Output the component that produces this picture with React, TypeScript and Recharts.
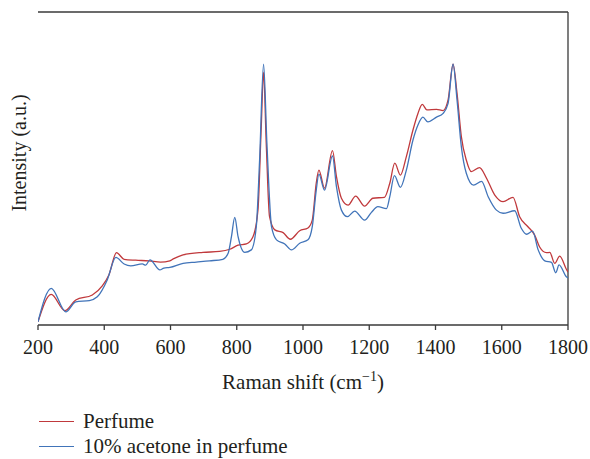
import React from "react";
import { LineChart, Line, XAxis, YAxis, Legend, ReferenceLine } from "recharts";

// Raman spectra (intensity in arbitrary units, 0-100 of the frame)
const perfumeShift = [
  200, 240, 281, 314, 364, 394, 414, 437, 460, 495, 535, 570, 598, 610, 638, 698, 748, 779, 804, 829,
  849, 864, 874, 881, 889, 899, 915, 940, 962, 990, 1015, 1028, 1040, 1048, 1065, 1089, 1101, 1116, 1136, 1159,
  1186, 1211, 1246, 1262, 1277, 1294, 1312, 1332, 1347, 1360, 1374, 1403, 1423, 1438, 1453, 1465, 1478, 1493, 1508, 1533,
  1554, 1579, 1604, 1634, 1654, 1679, 1699, 1714, 1735, 1745, 1760, 1775, 1795, 1800,
];
const perfumeIntensity = [
  1.0, 9.8, 4.6, 8.0, 9.6, 12.5, 16.0, 23.1, 21.0, 20.7, 20.5, 20.1, 20.5, 21.2, 22.4, 23.2, 23.5, 24.2, 25.5, 25.9,
  28.2, 36.7, 63.4, 80.8, 58.1, 34.6, 30.4, 29.5, 27.4, 30.1, 31.0, 33.5, 45.3, 49.5, 43.7, 55.7, 47.4, 40.5, 38.3, 41.2,
  38.0, 40.5, 40.8, 45.3, 51.7, 47.9, 53.8, 62.3, 67.6, 70.5, 68.7, 68.9, 68.5, 71.9, 83.3, 74.0, 60.2, 52.7, 49.0, 50.3,
  46.9, 41.5, 39.4, 40.8, 34.6, 31.4, 28.8, 25.0, 23.1, 23.2, 19.7, 22.0, 17.8, 16.9,
];

const acetoneShift = [
  200, 240, 284, 314, 355, 379, 409, 435, 460, 480, 515, 525, 538, 568, 580, 598, 638, 678, 718, 758,
  774, 784, 794, 804, 824, 844, 859, 869, 881, 891, 905, 920, 945, 965, 990, 1015, 1028, 1040, 1048, 1065,
  1089, 1101, 1116, 1134, 1156, 1186, 1206, 1226, 1252, 1262, 1276, 1294, 1312, 1332, 1347, 1362, 1377, 1403, 1423, 1438,
  1453, 1465, 1478, 1493, 1515, 1539, 1559, 1584, 1604, 1639, 1659, 1675, 1693, 1710, 1730, 1750, 1763, 1773, 1795, 1800,
];
const acetoneIntensity = [
  1.0, 11.7, 4.2, 7.4, 7.8, 9.0, 14.4, 21.6, 19.5, 18.9, 19.5, 19.1, 20.8, 17.6, 18.2, 18.4, 19.7, 20.1, 20.5, 21.0,
  22.9, 28.2, 34.4, 28.2, 23.2, 24.0, 31.4, 52.7, 83.3, 58.1, 31.4, 27.2, 25.9, 24.0, 26.1, 27.2, 31.4, 43.1, 48.2, 43.1,
  54.0, 44.2, 36.7, 34.6, 36.4, 33.5, 35.9, 37.8, 37.2, 41.0, 47.7, 44.0, 49.5, 59.1, 63.9, 66.4, 64.9, 66.4, 67.6, 70.8,
  83.3, 71.9, 57.0, 48.5, 44.7, 45.9, 41.0, 36.7, 35.7, 36.5, 30.9, 29.0, 30.0, 24.0, 20.5, 20.0, 16.7, 19.2, 15.4, 15.0,
];

const xTicks = [200, 400, 600, 800, 1000, 1200, 1400, 1600, 1800];
const seriesNames = ["Perfume", "10% acetone in perfume"];

const perfumeData = perfumeShift.map((shift, i) => ({ shift, intensity: perfumeIntensity[i] }));
const acetoneData = acetoneShift.map((shift, i) => ({ shift, intensity: acetoneIntensity[i] }));

const FONT = "'Liberation Serif', 'Times New Roman', serif";
const INK = "#231f20";
const AXIS = "#3a3a3a";

const XTitle = (props: any) => {
  const { x, y, width } = props.viewBox;
  return (
    <text x={x + width / 2} y={y + 64} textAnchor="middle" fontFamily={FONT} fontSize={21} fill={INK}>
      Raman shift (cm
      <tspan dy={-8} fontSize={14}>−1</tspan>
      <tspan dy={8}>)</tspan>
    </text>
  );
};

const LegendRows = (props: any) => {
  const items = [...(props.payload || [])].sort(
    (a: any, b: any) => seriesNames.indexOf(a.value) - seriesNames.indexOf(b.value)
  );
  return (
    <div style={{ height: 50, paddingLeft: 39, fontFamily: FONT, fontSize: 21, color: INK }}>
      {items.map((entry: any) => (
        <div key={entry.value} style={{ height: 25, display: "flex", alignItems: "center" }}>
          <span style={{ display: "inline-block", width: 35, height: 0, borderTop: `1.3px solid ${entry.color}`, marginRight: 9 }} />
          <span>{entry.value}</span>
        </div>
      ))}
    </div>
  );
};

export default function App() {
  return (
    <div style={{ position: "absolute", left: 0, top: 0, width: 590, height: 459 }}>
      <LineChart width={590} height={459} margin={{ top: 12, right: 22, left: 38, bottom: 0 }}>
        <XAxis
          dataKey="shift"
          type="number"
          domain={[200, 1800]}
          ticks={xTicks}
          allowDataOverflow
          height={84}
          tickSize={5}
          tickMargin={10}
          stroke={AXIS}
          strokeWidth={1.3}
          tick={{ fontFamily: FONT, fontSize: 20, fill: INK }}
          label={<XTitle />}
        />
        <YAxis type="number" domain={[0, 100]} width={0} tick={false} tickLine={false} stroke={AXIS} strokeWidth={1.3} />
        <ReferenceLine y={100} stroke={AXIS} strokeWidth={1.3} />
        <ReferenceLine x={1800} stroke={AXIS} strokeWidth={1.3} />
        <Legend
          verticalAlign="bottom"
          align="left"
          wrapperStyle={{ left: 0, width: 590 }}
          content={<LegendRows />}
        />
        <Line
          data={perfumeData}
          dataKey="intensity"
          name={seriesNames[0]}
          type="monotone"
          stroke="#c0393c"
          strokeWidth={1.3}
          dot={false}
          isAnimationActive={false}
        />
        <Line
          data={acetoneData}
          dataKey="intensity"
          name={seriesNames[1]}
          type="monotone"
          stroke="#4174b9"
          strokeWidth={1.3}
          dot={false}
          isAnimationActive={false}
        />
      </LineChart>
      {/* rotated y-axis title */}
      <div
        style={{
          position: "absolute",
          left: 19 - 100,
          top: 153 - 12,
          width: 200,
          height: 24,
          lineHeight: "24px",
          textAlign: "center",
          transform: "rotate(-90deg)",
          fontFamily: FONT,
          fontSize: 20,
          color: INK,
          whiteSpace: "nowrap",
        }}
      >
        Intensity (a.u.)
      </div>
    </div>
  );
}
